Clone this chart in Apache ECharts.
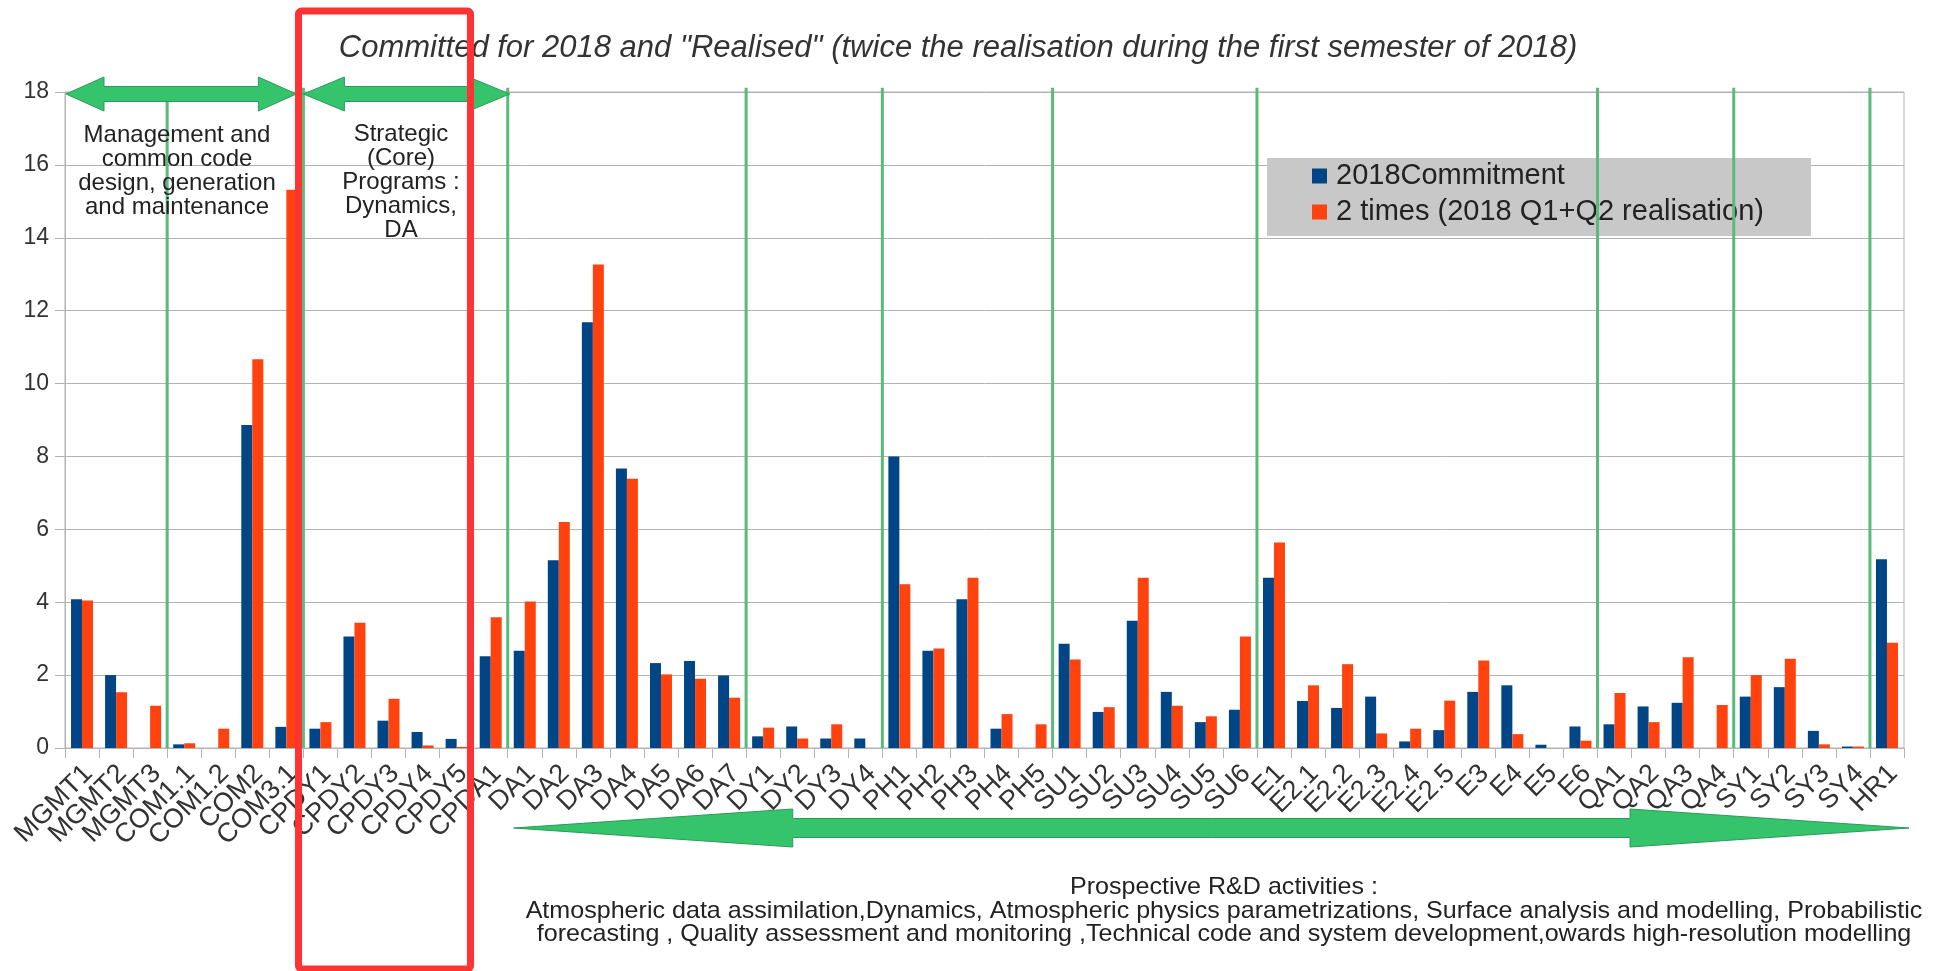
<!DOCTYPE html>
<html>
<head>
<meta charset="utf-8">
<script src="https://cdn.jsdelivr.net/npm/echarts@6/dist/echarts.min.js"></script>
<style>
  html, body { margin: 0; padding: 0; background: #ffffff; }
  #main { width: 1935px; height: 971px; }
</style>
</head>
<body>
<div id="main"></div>
<script>
// Activity codes along the x axis
const categories = ['MGMT1','MGMT2','MGMT3','COM1.1','COM1.2','COM2','COM3.1','CPDY1','CPDY2','CPDY3','CPDY4','CPDY5','CPDA1',
  'DA1','DA2','DA3','DA4','DA5','DA6','DA7','DY1','DY2','DY3','DY4','PH1','PH2','PH3','PH4','PH5',
  'SU1','SU2','SU3','SU4','SU5','SU6','E1','E2.1','E2.2','E2.3','E2.4','E2.5','E3','E4','E5','E6',
  'QA1','QA2','QA3','QA4','SY1','SY2','SY3','SY4','HR1'];

// 2018 commitment per activity
const commitment = [4.08,2.0,0,0.1,0,8.86,0.58,0.53,3.06,0.75,0.44,0.25,2.52,
  2.67,5.15,11.68,7.67,2.33,2.39,1.99,0.32,0.59,0.26,0.26,8.0,2.67,4.08,0.53,0,
  2.86,0.99,3.49,1.54,0.71,1.05,4.67,1.29,1.1,1.41,0.18,0.49,1.54,1.72,0.09,0.59,
  0.65,1.14,1.24,0,1.41,1.67,0.47,0.04,5.18];

// Twice the realisation of the first semester (Q1+Q2)
const realisedTwice = [4.05,1.53,1.16,0.13,0.53,10.67,15.32,0.71,3.44,1.35,0.07,0.03,3.59,
  4.02,6.2,13.27,7.39,2.02,1.9,1.38,0.56,0.26,0.65,0,4.49,2.73,4.67,0.93,0.65,
  2.43,1.12,4.67,1.16,0.87,3.06,5.64,1.72,2.3,0.4,0.53,1.3,2.4,0.38,0,0.2,
  1.51,0.71,2.49,1.18,2.0,2.45,0.1,0.04,2.89];

const seriesNames = ['2018Commitment', '2 times (2018 Q1+Q2 realisation)'];

// First activity of each work-package group (a separator is drawn before each)
const groupStarts = ['COM1.1','CPDY1','DA1','DY1','PH1','SU1','E1','QA1','SY1','HR1'];

const yTicks = { min: 0, max: 18, interval: 2 };

const titleText = 'Committed for 2018 and "Realised" (twice the realisation during the first semester of 2018)';
const mgmtText = 'Management and\ncommon code\ndesign, generation\nand maintenance';
const coreText = 'Strategic\n(Core)\nPrograms :\nDynamics,\nDA';
const rdText = 'Prospective R&D activities :\nAtmospheric data assimilation,Dynamics, Atmospheric physics parametrizations, Surface analysis and modelling, Probabilistic\nforecasting , Quality assessment and monitoring ,Technical code and system development,owards high-resolution modelling';

const FONT = '"Liberation Sans", Arial, sans-serif';
const BLUE = '#004586';
const ORANGE = '#ff420e';
const SEP_GREEN = '#58bb78';

const chart = echarts.init(document.getElementById('main'), null, { renderer: 'canvas' });

// Boundary positions (on the hidden 0..N value axis) where each group begins
const separatorData = groupStarts.map(c => [categories.indexOf(c)]);

chart.setOption({
  animation: false,
  backgroundColor: '#ffffff',
  textStyle: { fontFamily: FONT },
  grid: { left: 65, right: 31, top: 92, bottom: 223, show: true, borderColor: '#b3b3b3', borderWidth: 1 },
  legend: {
    data: seriesNames,
    orient: 'vertical',
    left: 1267, top: 158,
    backgroundColor: '#c8c8c8',
    padding: [2, 47, 8, 45],
    itemGap: 4,
    itemWidth: 15, itemHeight: 15,
    icon: 'rect',
    textStyle: { fontSize: 29, color: '#222', fontFamily: FONT, lineHeight: 32, padding: [0, 0, 0, 4] }
  },
  xAxis: [{
    type: 'category',
    data: categories,
    axisLine: { lineStyle: { color: '#b3b3b3' } },
    axisTick: { show: true, length: 10, lineStyle: { color: '#b3b3b3' } },
    axisLabel: { rotate: 45, interval: 0, fontSize: 27, color: '#333', margin: 15,
      verticalAlign: 'top', lineHeight: 18, fontFamily: FONT }
  }, {
    type: 'value', min: 0, max: categories.length, show: false
  }],
  yAxis: {
    type: 'value',
    min: yTicks.min, max: yTicks.max, interval: yTicks.interval,
    axisLine: { show: true, lineStyle: { color: '#b3b3b3' } },
    axisTick: { show: true, length: 10, lineStyle: { color: '#b3b3b3' } },
    axisLabel: { fontSize: 23, color: '#333', margin: 16, fontFamily: FONT },
    splitLine: { lineStyle: { color: '#b3b3b3', width: 1 } }
  },
  series: [{
    name: seriesNames[0], type: 'bar', data: commitment,
    barWidth: 11, barGap: '0%', itemStyle: { color: BLUE }
  }, {
    name: seriesNames[1], type: 'bar', data: realisedTwice,
    barWidth: 11, barGap: '0%', itemStyle: { color: ORANGE }
  }, {
    // Vertical group separators running the full height of the plot
    type: 'custom', xAxisIndex: 1, yAxisIndex: 0, silent: true, z: 6, clip: false,
    encode: { x: 0 },
    data: separatorData,
    renderItem: function (params, api) {
      const x = api.value(0);
      const p0 = api.coord([x, 0]);
      const p1 = api.coord([x, 18.12]);
      return {
        type: 'line',
        shape: { x1: p0[0], y1: p0[1], x2: p1[0], y2: p1[1] },
        style: { stroke: SEP_GREEN, lineWidth: 3 }
      };
    }
  }]
});

const xp = v => chart.convertToPixel({ xAxisIndex: 1 }, v);
const yp = v => chart.convertToPixel({ yAxisIndex: 0 }, v);

// Double-headed block arrow as a polygon
function doubleArrow(x0, x1, yc, headLen, headHalf, shaftHalf) {
  return {
    type: 'polygon',
    z: 20,
    shape: { points: [
      [x0, yc], [x0 + headLen, yc - headHalf], [x0 + headLen, yc - shaftHalf],
      [x1 - headLen, yc - shaftHalf], [x1 - headLen, yc - headHalf], [x1, yc],
      [x1 - headLen, yc + headHalf], [x1 - headLen, yc + shaftHalf],
      [x0 + headLen, yc + shaftHalf], [x0 + headLen, yc + headHalf]
    ] },
    style: { fill: '#35c46c', stroke: '#2a9a5a', lineWidth: 1 }
  };
}

const iCore = categories.indexOf('CPDY1');
const iRD = categories.indexOf('DA1');
const topY = yp(18) + 2;

chart.setOption({
  graphic: [
    { type: 'text', z: 20, x: 958, y: 48,
      style: { text: titleText, font: 'italic 31px ' + FONT, fill: '#333', align: 'center', verticalAlign: 'middle' } },
    doubleArrow(xp(0) + 1, xp(iCore) - 7, topY, 38, 17, 7.5),
    doubleArrow(xp(iCore), xp(iRD) + 2, topY, 41, 17, 7.5),
    doubleArrow(xp(iRD) + 6, xp(categories.length) + 5, 828, 279, 19, 9.5),
    { type: 'text', z: 20, x: 177, y: 123,
      style: { text: mgmtText, font: '24px ' + FONT, lineHeight: 24, fill: '#222', align: 'center', verticalAlign: 'top' } },
    { type: 'text', z: 20, x: 401, y: 122,
      style: { text: coreText, font: '24px ' + FONT, lineHeight: 24, fill: '#222', align: 'center', verticalAlign: 'top' } },
    { type: 'text', z: 20, x: 1224, y: 876, scaleX: 1.045,
      style: { text: rdText, font: '24px ' + FONT, lineHeight: 23.5, fill: '#222', align: 'center', verticalAlign: 'top' } },
    { type: 'rect', z: 30,
      shape: { x: 298.5, y: 11, width: 172, height: 958, r: 3 },
      style: { fill: 'none', stroke: '#ff3333', lineWidth: 7 } }
  ]
});
</script>
</body>
</html>
